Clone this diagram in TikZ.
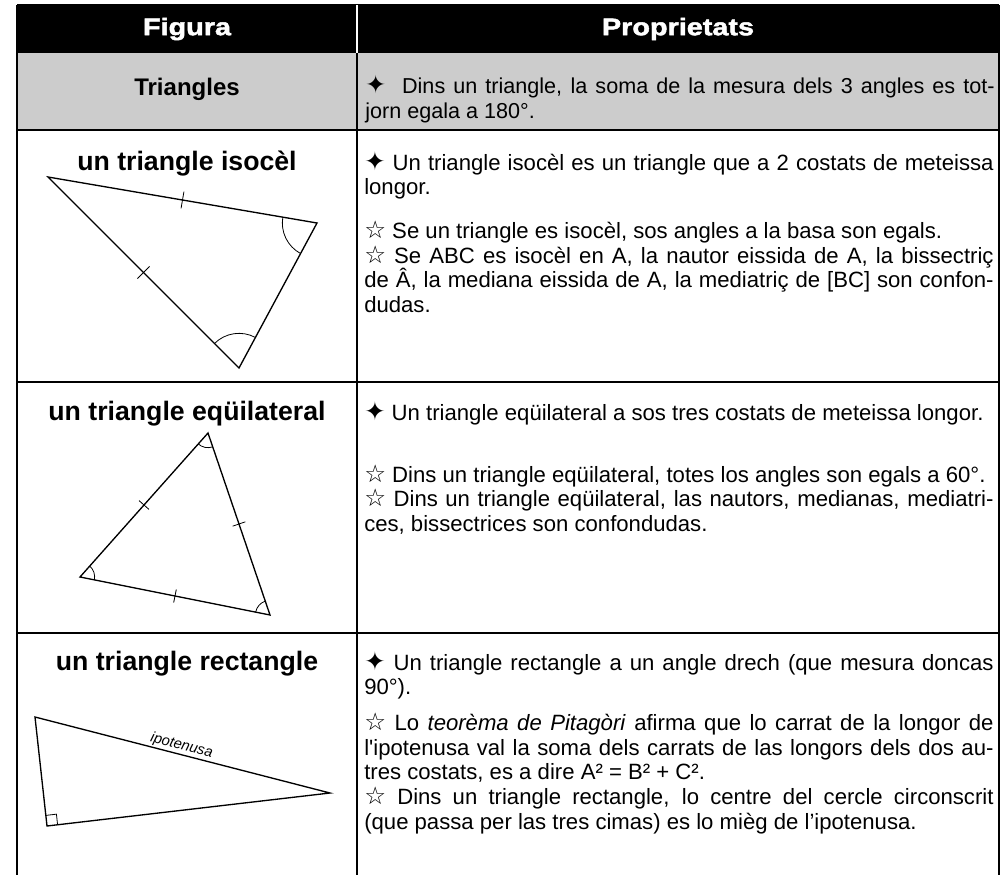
\documentclass[tikz,border=0pt]{standalone}
\usepackage{fontspec}
\setmainfont{Liberation Sans}
\newfontfamily\symfont{DejaVu Sans}
\newfontfamily\plainfont{Liberation Sans}
\newfontfamily\headfont{Liberation Sans Bold}[FakeStretch=1.2,FakeBold=2]
\usetikzlibrary{calc, angles}
\definecolor{rowgrey}{RGB}{204,204,204}
\newcommand{\blackstar}{{\symfont\scalebox{1.15}{\char"2726}}}
\newcommand{\whitestar}{{\symfont\scalebox{1.1}{\char"2606}}}
\hyphenpenalty=10000
\tolerance=9999

\begin{document}
\begin{tikzpicture}[x=0.75pt, y=-0.75pt,
    rule/.style={line width=0.8pt},
    headtxt/.style={text=white, font=\headfont\fontsize{18}{20}\selectfont},
    figtitle/.style={anchor=base, inner sep=0pt, font=\bfseries\fontsize{20}{24}\selectfont},
    proptxt/.style={anchor=base west, inner sep=0pt, text width=472pt, align=justify, font=\fontsize{16.6}{18.6}\selectfont},
    side/.style={line width=1pt},
    tickmark/.style={line width=0.6pt},
    arcmark/.style={draw, line width=0.6pt}]
    \useasboundingbox (0,0) rectangle (1008,875);

    \fill (17,5) rectangle (999,53);
    \fill[rowgrey] (17,53) rectangle (999,130);
    \draw[rule] (17,5) -- (999,5);
    \draw[rule] (17,5) -- (17,875);
    \draw[rule] (999,5) -- (999,875);
    \draw[rule] (357,53) -- (357,875);
    \draw[rule, white] (357,5) -- (357,53);
    \foreach \y in {130,382,633}
        \draw[rule] (17,\y) -- (999,\y);

    \node[headtxt] (figura) at (187,29) {Figura};
    \node[headtxt] (prop) at (678,29) {Proprietats};

    \node[figtitle, font=\bfseries\fontsize{18}{22}\selectfont] (tri) at (187,95) {Triangles};
    \node[proptxt, font=\fontsize{16.2}{19}\selectfont] (triprop) at (365,93)
        {\blackstar\ \ Dins un triangle, la soma de la mesura dels 3 angles es tot-\linebreak jorn egala a 180°.};

    \node[figtitle] (iso) at (187,170) {un triangle isocèl};
    \node[proptxt] (isoprop) at (364,170)
        {\blackstar{} Un triangle isocèl es un triangle que a 2 costats de meteissa\linebreak longor.\par\vspace{14pt}
         \whitestar{} Se un triangle es isocèl, sos angles a la basa son egals.\par
         \whitestar{} Se ABC es isocèl en A, la nautor eissida de A, la bissectriç\linebreak de Â, la mediana eissida de A, la mediatriç de [BC] son confon-\linebreak dudas.};

    \node[figtitle] (equi) at (187,420) {un triangle eqüilateral};
    \node[proptxt] (equiprop) at (364,420)
        {\blackstar{} Un triangle eqüilateral a sos tres costats de meteissa longor.\par\vspace{28pt}
         \whitestar{} Dins un triangle eqüilateral, totes los angles son egals a 60°.\par
         \whitestar{} Dins un triangle eqüilateral, las nautors, medianas, mediatri-\linebreak ces, bissectrices son confondudas.};

    \node[figtitle] (rect) at (187,670) {un triangle rectangle};
    \node[proptxt] (rectprop) at (364,670)
        {\blackstar{} Un triangle rectangle a un angle drech (que mesura doncas\linebreak 90°).\par\vspace{8pt}
         \whitestar{} Lo \textit{teorèma de Pitagòri} afirma que lo carrat de la longor de\linebreak l{\plainfont '}ipotenusa val la soma dels carrats de las longors dels dos au-\linebreak tres costats, es a dire A² = B² + C².\par
         \whitestar{} Dins un triangle rectangle, lo centre del cercle circonscrit\linebreak (que passa per las tres cimas) es lo mièg de l’ipotenusa.};

    % isocel
    \coordinate (iA) at (48,177);
    \coordinate (iB) at (317,223);
    \coordinate (iC) at (239,368);
    \draw[side] (iA) -- (iB) -- (iC) -- cycle;
    \pic[arcmark, angle radius=26pt] {angle=iA--iB--iC};
    \pic[arcmark, angle radius=26pt] {angle=iB--iC--iA};
    \foreach \p/\q in {iA/iB, iA/iC}
        \draw[tickmark] ($(\p)!0.5!(\q)!6.4pt!90:(\q)$) -- ($(\p)!0.5!(\q)!6.4pt!-90:(\q)$);

    % equilateral
    \coordinate (eA) at (208,433);
    \coordinate (eB) at (80,577);
    \coordinate (eC) at (270,615);
    \draw[side] (eA) -- (eB) -- (eC) -- cycle;
    \pic[arcmark, angle radius=11pt] {angle=eB--eA--eC};
    \pic[arcmark, angle radius=11pt] {angle=eC--eB--eA};
    \pic[arcmark, angle radius=11pt] {angle=eA--eC--eB};
    \foreach \p/\q in {eA/eB, eB/eC, eC/eA}
        \draw[tickmark] ($(\p)!0.5!(\q)!5pt!90:(\q)$) -- ($(\p)!0.5!(\q)!5pt!-90:(\q)$);

    % rectangle
    \coordinate (rA) at (35,717);
    \coordinate (rB) at (47,826);
    \coordinate (rC) at (330,793);
    \draw[side] (rA) -- (rB) -- (rC) -- cycle;
    \coordinate (rP) at ($(rB)!8pt!(rC)$);
    \coordinate (rQ) at ($(rB)!8pt!(rA)$);
    \draw[tickmark] (rP) -- ($(rP)+(rQ)-(rB)$) -- (rQ);
    \path (rA) -- (rC) node[pos=0.49, sloped, above=1pt, inner sep=0pt, font=\itshape\fontsize{11}{13}\selectfont] (hyp) {ipotenusa};
\end{tikzpicture}
\end{document}
